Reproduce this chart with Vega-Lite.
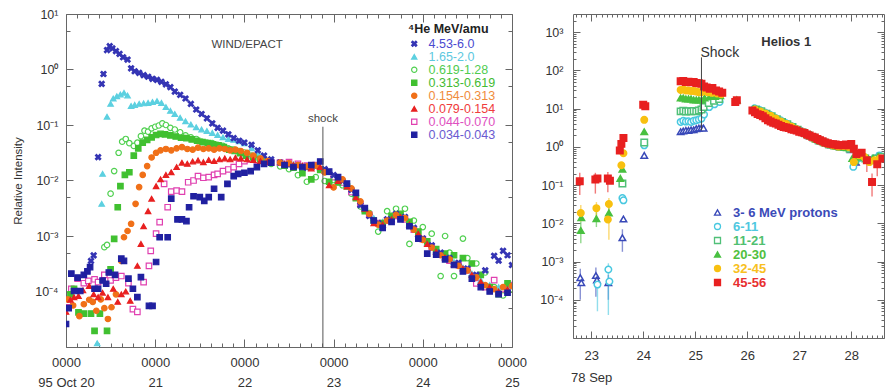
{
  "$schema": "https://vega.github.io/schema/vega-lite/v6.json",
  "background": "white",
  "padding": {"left": 12, "top": 8, "right": 2, "bottom": 2},
  "bounds": "flush",
  "spacing": 61,
  "config": {
    "view": {"stroke": null},
    "axis": {"grid": false, "labelFont": "Liberation Sans", "titleFont": "Liberation Sans", "domainColor": "#666", "tickColor": "#666", "labelColor": "#333", "domainWidth": 1, "tickWidth": 1},
    "legend": {"labelFont": "Liberation Sans", "titleFont": "Liberation Sans"},
    "text": {"font": "Liberation Sans"}
  },
  "datasets": {
    "wind": [
      {"s":"0.619-1.28","t":20.43,"v":0.00063},{"s":"0.619-1.28","t":20.46,"v":0.00069},{"s":"0.619-1.28","t":20.50,"v":0.0058},{"s":"0.619-1.28","t":20.54,"v":0.0148},{"s":"0.619-1.28","t":20.59,"v":0.0316},{"s":"0.619-1.28","t":20.63,"v":0.050},{"s":"0.619-1.28","t":20.67,"v":0.056},{"s":"0.619-1.28","t":20.71,"v":0.047},{"s":"0.619-1.28","t":20.76,"v":0.042},{"s":"0.619-1.28","t":20.80,"v":0.048},{"s":"0.619-1.28","t":20.84,"v":0.063},{"s":"0.619-1.28","t":20.88,"v":0.079},{"s":"0.619-1.28","t":20.92,"v":0.076},{"s":"0.619-1.28","t":20.96,"v":0.087},{"s":"0.619-1.28","t":21.00,"v":0.093},{"s":"0.619-1.28","t":21.04,"v":0.098},{"s":"0.619-1.28","t":21.08,"v":0.107},{"s":"0.619-1.28","t":21.12,"v":0.100},{"s":"0.619-1.28","t":21.17,"v":0.089},{"s":"0.619-1.28","t":21.22,"v":0.083},{"s":"0.619-1.28","t":21.28,"v":0.074},{"s":"0.619-1.28","t":21.34,"v":0.065},{"s":"0.619-1.28","t":21.40,"v":0.060},{"s":"0.619-1.28","t":21.46,"v":0.056},{"s":"0.619-1.28","t":21.52,"v":0.050},{"s":"0.619-1.28","t":21.58,"v":0.048},{"s":"0.619-1.28","t":21.64,"v":0.047},{"s":"0.619-1.28","t":21.70,"v":0.044},{"s":"0.619-1.28","t":21.76,"v":0.042},{"s":"0.619-1.28","t":21.82,"v":0.038},{"s":"0.619-1.28","t":21.88,"v":0.036},{"s":"0.619-1.28","t":21.94,"v":0.034},{"s":"0.619-1.28","t":22.00,"v":0.032},{"s":"0.619-1.28","t":22.08,"v":0.028},{"s":"0.619-1.28","t":22.15,"v":0.025},{"s":"0.619-1.28","t":22.22,"v":0.0224},{"s":"0.619-1.28","t":22.30,"v":0.020},
      {"s":"0.619-1.28","t":22.4,"v":0.018},{"s":"0.619-1.28","t":22.5,"v":0.016},{"s":"0.619-1.28","t":22.6,"v":0.0125},{"s":"0.619-1.28","t":22.7,"v":0.0095},{"s":"0.619-1.28","t":22.8,"v":0.0115},{"s":"0.619-1.28","t":22.9,"v":0.0098},{"s":"0.619-1.28","t":23.0,"v":0.0102},{"s":"0.619-1.28","t":23.1,"v":0.0082},{"s":"0.619-1.28","t":23.2,"v":0.0058},{"s":"0.619-1.28","t":23.3,"v":0.0034},{"s":"0.619-1.28","t":23.4,"v":0.0026},{"s":"0.619-1.28","t":23.5,"v":0.0012},{"s":"0.619-1.28","t":23.6,"v":0.0028},{"s":"0.619-1.28","t":23.7,"v":0.0031},{"s":"0.619-1.28","t":23.8,"v":0.0031},{"s":"0.619-1.28","t":23.85,"v":0.00072},{"s":"0.619-1.28","t":23.9,"v":0.0019},{"s":"0.619-1.28","t":24.0,"v":0.00145},{"s":"0.619-1.28","t":24.1,"v":0.0011},{"s":"0.619-1.28","t":24.2,"v":0.00019},{"s":"0.619-1.28","t":24.25,"v":0.001},{"s":"0.619-1.28","t":24.3,"v":0.0005},{"s":"0.619-1.28","t":24.35,"v":0.00019},{"s":"0.619-1.28","t":24.45,"v":0.0009},{"s":"0.619-1.28","t":24.5,"v":0.0004},{"s":"0.619-1.28","t":24.6,"v":0.00032},{"s":"0.619-1.28","t":24.7,"v":0.00022},{"s":"0.619-1.28","t":24.8,"v":0.00012},{"s":"0.619-1.28","t":24.9,"v":0.000085},{"s":"0.619-1.28","t":25.0,"v":0.00011},

      {"s":"0.044-0.070","t":20.02,"v":0.000065},{"s":"0.044-0.070","t":20.06,"v":0.000112},{"s":"0.044-0.070","t":20.13,"v":0.00017},{"s":"0.044-0.070","t":20.20,"v":0.000141},{"s":"0.044-0.070","t":20.25,"v":0.000155},{"s":"0.044-0.070","t":20.32,"v":0.000166},{"s":"0.044-0.070","t":20.36,"v":0.000148},{"s":"0.044-0.070","t":20.43,"v":0.0002},{"s":"0.044-0.070","t":20.50,"v":0.000158},{"s":"0.044-0.070","t":20.56,"v":0.000178},{"s":"0.044-0.070","t":20.62,"v":0.00019},{"s":"0.044-0.070","t":20.70,"v":0.000141},{"s":"0.044-0.070","t":20.75,"v":0.000048},{"s":"0.044-0.070","t":20.80,"v":0.000043},{"s":"0.044-0.070","t":20.87,"v":0.000148},{"s":"0.044-0.070","t":20.93,"v":0.00029},{"s":"0.044-0.070","t":20.95,"v":0.00054},{"s":"0.044-0.070","t":21.01,"v":0.0011},{"s":"0.044-0.070","t":21.05,"v":0.00178},{"s":"0.044-0.070","t":21.10,"v":0.0087},{"s":"0.044-0.070","t":21.14,"v":0.0033},{"s":"0.044-0.070","t":21.18,"v":0.0063},{"s":"0.044-0.070","t":21.24,"v":0.0066},{"s":"0.044-0.070","t":21.30,"v":0.0063},{"s":"0.044-0.070","t":21.37,"v":0.0093},{"s":"0.044-0.070","t":21.43,"v":0.010},{"s":"0.044-0.070","t":21.48,"v":0.012},{"s":"0.044-0.070","t":21.54,"v":0.0112},{"s":"0.044-0.070","t":21.60,"v":0.0115},{"s":"0.044-0.070","t":21.66,"v":0.0126},{"s":"0.044-0.070","t":21.70,"v":0.0132},{"s":"0.044-0.070","t":21.76,"v":0.0148},{"s":"0.044-0.070","t":21.82,"v":0.0158},{"s":"0.044-0.070","t":21.88,"v":0.0174},{"s":"0.044-0.070","t":21.94,"v":0.020},{"s":"0.044-0.070","t":22.00,"v":0.0224},{"s":"0.044-0.070","t":22.07,"v":0.024},{"s":"0.044-0.070","t":22.14,"v":0.023},{"s":"0.044-0.070","t":22.22,"v":0.022},{"s":"0.044-0.070","t":22.30,"v":0.021},
      {"s":"0.044-0.070","t":22.4,"v":0.021},{"s":"0.044-0.070","t":22.5,"v":0.0215},{"s":"0.044-0.070","t":22.6,"v":0.020},{"s":"0.044-0.070","t":22.7,"v":0.0185},{"s":"0.044-0.070","t":22.8,"v":0.019},{"s":"0.044-0.070","t":22.9,"v":0.015},{"s":"0.044-0.070","t":23.0,"v":0.0115},{"s":"0.044-0.070","t":23.1,"v":0.0092},{"s":"0.044-0.070","t":23.2,"v":0.0062},{"s":"0.044-0.070","t":23.3,"v":0.0038},{"s":"0.044-0.070","t":23.4,"v":0.0024},{"s":"0.044-0.070","t":23.5,"v":0.0017},{"s":"0.044-0.070","t":23.6,"v":0.0019},{"s":"0.044-0.070","t":23.7,"v":0.0023},{"s":"0.044-0.070","t":23.8,"v":0.002},{"s":"0.044-0.070","t":23.9,"v":0.0013},{"s":"0.044-0.070","t":24.0,"v":0.00088},{"s":"0.044-0.070","t":24.1,"v":0.00063},{"s":"0.044-0.070","t":24.2,"v":0.00046},{"s":"0.044-0.070","t":24.3,"v":0.00036},{"s":"0.044-0.070","t":24.4,"v":0.0003},{"s":"0.044-0.070","t":24.5,"v":0.00024},{"s":"0.044-0.070","t":24.6,"v":0.00014},{"s":"0.044-0.070","t":24.7,"v":0.00012},{"s":"0.044-0.070","t":24.8,"v":0.00016},{"s":"0.044-0.070","t":24.9,"v":0.00011},{"s":"0.044-0.070","t":25.0,"v":0.00013},

      {"s":"1.65-2.0","t":20.35,"v":0.0000117},{"s":"1.65-2.0","t":20.40,"v":0.0038},{"s":"1.65-2.0","t":20.41,"v":0.0132},{"s":"1.65-2.0","t":20.46,"v":0.141},{"s":"1.65-2.0","t":20.50,"v":0.24},{"s":"1.65-2.0","t":20.53,"v":0.30},{"s":"1.65-2.0","t":20.57,"v":0.33},{"s":"1.65-2.0","t":20.61,"v":0.355},{"s":"1.65-2.0","t":20.65,"v":0.38},{"s":"1.65-2.0","t":20.69,"v":0.34},{"s":"1.65-2.0","t":20.73,"v":0.22},{"s":"1.65-2.0","t":20.77,"v":0.23},{"s":"1.65-2.0","t":20.82,"v":0.24},{"s":"1.65-2.0","t":20.87,"v":0.245},{"s":"1.65-2.0","t":20.92,"v":0.25},{"s":"1.65-2.0","t":20.97,"v":0.26},{"s":"1.65-2.0","t":21.02,"v":0.27},{"s":"1.65-2.0","t":21.07,"v":0.25},{"s":"1.65-2.0","t":21.12,"v":0.21},{"s":"1.65-2.0","t":21.17,"v":0.18},{"s":"1.65-2.0","t":21.22,"v":0.158},{"s":"1.65-2.0","t":21.28,"v":0.135},{"s":"1.65-2.0","t":21.34,"v":0.117},{"s":"1.65-2.0","t":21.40,"v":0.102},{"s":"1.65-2.0","t":21.46,"v":0.091},{"s":"1.65-2.0","t":21.52,"v":0.083},{"s":"1.65-2.0","t":21.58,"v":0.078},{"s":"1.65-2.0","t":21.64,"v":0.072},{"s":"1.65-2.0","t":21.70,"v":0.066},{"s":"1.65-2.0","t":21.76,"v":0.060},{"s":"1.65-2.0","t":21.82,"v":0.056},{"s":"1.65-2.0","t":21.88,"v":0.054},{"s":"1.65-2.0","t":21.94,"v":0.051},{"s":"1.65-2.0","t":22.00,"v":0.047},{"s":"1.65-2.0","t":22.08,"v":0.038},{"s":"1.65-2.0","t":22.15,"v":0.032},{"s":"1.65-2.0","t":22.22,"v":0.027},{"s":"1.65-2.0","t":22.30,"v":0.0234},
      {"s":"1.65-2.0","t":22.45,"v":0.020},{"s":"1.65-2.0","t":22.55,"v":0.0195},{"s":"1.65-2.0","t":22.65,"v":0.018},{"s":"1.65-2.0","t":22.75,"v":0.0178},{"s":"1.65-2.0","t":22.85,"v":0.017},{"s":"1.65-2.0","t":22.95,"v":0.014},{"s":"1.65-2.0","t":23.05,"v":0.011},{"s":"1.65-2.0","t":23.15,"v":0.0085},{"s":"1.65-2.0","t":23.25,"v":0.0052},{"s":"1.65-2.0","t":23.35,"v":0.003},{"s":"1.65-2.0","t":23.45,"v":0.0021},{"s":"1.65-2.0","t":23.55,"v":0.0018},{"s":"1.65-2.0","t":23.65,"v":0.0022},{"s":"1.65-2.0","t":23.75,"v":0.0023},{"s":"1.65-2.0","t":23.85,"v":0.0017},{"s":"1.65-2.0","t":23.95,"v":0.0011},{"s":"1.65-2.0","t":24.05,"v":0.00075},{"s":"1.65-2.0","t":24.15,"v":0.00055},{"s":"1.65-2.0","t":24.25,"v":0.00042},{"s":"1.65-2.0","t":24.35,"v":0.00034},{"s":"1.65-2.0","t":24.45,"v":0.00027},{"s":"1.65-2.0","t":24.55,"v":0.00021},{"s":"1.65-2.0","t":24.65,"v":0.00016},{"s":"1.65-2.0","t":24.75,"v":0.00013},{"s":"1.65-2.0","t":24.85,"v":0.00012},{"s":"1.65-2.0","t":24.95,"v":0.00012},

      {"s":"0.313-0.619","t":20.05,"v":0.000089},{"s":"0.313-0.619","t":20.09,"v":0.000112},{"s":"0.313-0.619","t":20.14,"v":0.000042},{"s":"0.313-0.619","t":20.20,"v":0.00004},{"s":"0.313-0.619","t":20.28,"v":0.00004},{"s":"0.313-0.619","t":20.32,"v":0.0000195},{"s":"0.313-0.619","t":20.38,"v":0.00004},{"s":"0.313-0.619","t":20.46,"v":0.0000195},{"s":"0.313-0.619","t":20.50,"v":0.00025},{"s":"0.313-0.619","t":20.54,"v":0.00089},{"s":"0.313-0.619","t":20.58,"v":0.0033},{"s":"0.313-0.619","t":20.61,"v":0.0079},{"s":"0.313-0.619","t":20.66,"v":0.0126},{"s":"0.313-0.619","t":20.71,"v":0.0141},{"s":"0.313-0.619","t":20.76,"v":0.028},{"s":"0.313-0.619","t":20.81,"v":0.038},{"s":"0.313-0.619","t":20.86,"v":0.048},{"s":"0.313-0.619","t":20.91,"v":0.054},{"s":"0.313-0.619","t":20.96,"v":0.060},{"s":"0.313-0.619","t":21.01,"v":0.066},{"s":"0.313-0.619","t":21.06,"v":0.069},{"s":"0.313-0.619","t":21.11,"v":0.068},{"s":"0.313-0.619","t":21.17,"v":0.065},{"s":"0.313-0.619","t":21.23,"v":0.062},{"s":"0.313-0.619","t":21.29,"v":0.059},{"s":"0.313-0.619","t":21.35,"v":0.058},{"s":"0.313-0.619","t":21.41,"v":0.055},{"s":"0.313-0.619","t":21.47,"v":0.052},{"s":"0.313-0.619","t":21.53,"v":0.049},{"s":"0.313-0.619","t":21.59,"v":0.047},{"s":"0.313-0.619","t":21.65,"v":0.045},{"s":"0.313-0.619","t":21.71,"v":0.043},{"s":"0.313-0.619","t":21.77,"v":0.040},{"s":"0.313-0.619","t":21.83,"v":0.036},{"s":"0.313-0.619","t":21.89,"v":0.034},{"s":"0.313-0.619","t":21.95,"v":0.031},{"s":"0.313-0.619","t":22.02,"v":0.028},{"s":"0.313-0.619","t":22.10,"v":0.026},{"s":"0.313-0.619","t":22.18,"v":0.024},{"s":"0.313-0.619","t":22.26,"v":0.022},
      {"s":"0.313-0.619","t":22.45,"v":0.0185},{"s":"0.313-0.619","t":22.55,"v":0.017},{"s":"0.313-0.619","t":22.65,"v":0.0135},{"s":"0.313-0.619","t":22.75,"v":0.0105},{"s":"0.313-0.619","t":22.85,"v":0.0155},{"s":"0.313-0.619","t":22.95,"v":0.0095},{"s":"0.313-0.619","t":23.05,"v":0.0092},{"s":"0.313-0.619","t":23.15,"v":0.0078},{"s":"0.313-0.619","t":23.25,"v":0.0048},{"s":"0.313-0.619","t":23.35,"v":0.0028},{"s":"0.313-0.619","t":23.45,"v":0.0019},{"s":"0.313-0.619","t":23.55,"v":0.0017},{"s":"0.313-0.619","t":23.65,"v":0.0023},{"s":"0.313-0.619","t":23.75,"v":0.0025},{"s":"0.313-0.619","t":23.85,"v":0.0018},{"s":"0.313-0.619","t":23.95,"v":0.0012},{"s":"0.313-0.619","t":24.05,"v":0.0008},{"s":"0.313-0.619","t":24.15,"v":0.00058},{"s":"0.313-0.619","t":24.25,"v":0.00048},{"s":"0.313-0.619","t":24.35,"v":0.00045},{"s":"0.313-0.619","t":24.45,"v":0.0004},{"s":"0.313-0.619","t":24.55,"v":0.00032},{"s":"0.313-0.619","t":24.65,"v":0.0002},{"s":"0.313-0.619","t":24.75,"v":0.00012},{"s":"0.313-0.619","t":24.85,"v":0.00009},{"s":"0.313-0.619","t":24.95,"v":0.00014},

      {"s":"4.53-6.0","t":20.28,"v":0.000355},{"s":"4.53-6.0","t":20.31,"v":0.000447},{"s":"4.53-6.0","t":20.36,"v":0.0263},{"s":"4.53-6.0","t":20.40,"v":0.55},{"s":"4.53-6.0","t":20.42,"v":0.83},{"s":"4.53-6.0","t":20.46,"v":2.24},{"s":"4.53-6.0","t":20.49,"v":2.63},{"s":"4.53-6.0","t":20.52,"v":2.4},{"s":"4.53-6.0","t":20.56,"v":2.14},{"s":"4.53-6.0","t":20.60,"v":1.91},{"s":"4.53-6.0","t":20.64,"v":1.66},{"s":"4.53-6.0","t":20.69,"v":1.51},{"s":"4.53-6.0","t":20.73,"v":1.05},{"s":"4.53-6.0","t":20.77,"v":0.93},{"s":"4.53-6.0","t":20.82,"v":0.87},{"s":"4.53-6.0","t":20.87,"v":0.79},{"s":"4.53-6.0","t":20.92,"v":0.74},{"s":"4.53-6.0","t":20.97,"v":0.68},{"s":"4.53-6.0","t":21.02,"v":0.65},{"s":"4.53-6.0","t":21.07,"v":0.60},{"s":"4.53-6.0","t":21.12,"v":0.54},{"s":"4.53-6.0","t":21.17,"v":0.48},{"s":"4.53-6.0","t":21.22,"v":0.40},{"s":"4.53-6.0","t":21.28,"v":0.35},{"s":"4.53-6.0","t":21.34,"v":0.30},{"s":"4.53-6.0","t":21.40,"v":0.24},{"s":"4.53-6.0","t":21.46,"v":0.19},{"s":"4.53-6.0","t":21.52,"v":0.158},{"s":"4.53-6.0","t":21.58,"v":0.132},{"s":"4.53-6.0","t":21.64,"v":0.107},{"s":"4.53-6.0","t":21.70,"v":0.089},{"s":"4.53-6.0","t":21.76,"v":0.079},{"s":"4.53-6.0","t":21.82,"v":0.068},{"s":"4.53-6.0","t":21.88,"v":0.058},{"s":"4.53-6.0","t":21.94,"v":0.052},{"s":"4.53-6.0","t":22.00,"v":0.048},{"s":"4.53-6.0","t":22.08,"v":0.044},{"s":"4.53-6.0","t":22.15,"v":0.035},{"s":"4.53-6.0","t":22.22,"v":0.028},{"s":"4.53-6.0","t":22.30,"v":0.024},
      {"s":"4.53-6.0","t":22.4,"v":0.021},{"s":"4.53-6.0","t":22.5,"v":0.019},{"s":"4.53-6.0","t":22.6,"v":0.0185},{"s":"4.53-6.0","t":22.7,"v":0.017},{"s":"4.53-6.0","t":22.8,"v":0.018},{"s":"4.53-6.0","t":22.9,"v":0.016},{"s":"4.53-6.0","t":23.0,"v":0.0125},{"s":"4.53-6.0","t":23.1,"v":0.0098},{"s":"4.53-6.0","t":23.2,"v":0.0068},{"s":"4.53-6.0","t":23.3,"v":0.0036},{"s":"4.53-6.0","t":23.4,"v":0.0023},{"s":"4.53-6.0","t":23.5,"v":0.0017},{"s":"4.53-6.0","t":23.6,"v":0.002},{"s":"4.53-6.0","t":23.7,"v":0.0025},{"s":"4.53-6.0","t":23.8,"v":0.0022},{"s":"4.53-6.0","t":23.9,"v":0.0014},{"s":"4.53-6.0","t":24.0,"v":0.0009},{"s":"4.53-6.0","t":24.1,"v":0.00068},{"s":"4.53-6.0","t":24.2,"v":0.0005},{"s":"4.53-6.0","t":24.3,"v":0.0004},{"s":"4.53-6.0","t":24.4,"v":0.00033},{"s":"4.53-6.0","t":24.5,"v":0.00026},{"s":"4.53-6.0","t":24.6,"v":0.0002},{"s":"4.53-6.0","t":24.7,"v":0.00024},{"s":"4.53-6.0","t":24.8,"v":0.00044},{"s":"4.53-6.0","t":24.85,"v":0.00036},{"s":"4.53-6.0","t":24.9,"v":0.00054},{"s":"4.53-6.0","t":24.95,"v":0.00045},{"s":"4.53-6.0","t":25.0,"v":0.0003},

      {"s":"0.154-0.313","t":20.02,"v":0.000072},{"s":"0.154-0.313","t":20.08,"v":0.000056},{"s":"0.154-0.313","t":20.15,"v":0.000036},{"s":"0.154-0.313","t":20.20,"v":0.000059},{"s":"0.154-0.313","t":20.26,"v":0.000071},{"s":"0.154-0.313","t":20.30,"v":0.000065},{"s":"0.154-0.313","t":20.34,"v":0.000045},{"s":"0.154-0.313","t":20.39,"v":0.000072},{"s":"0.154-0.313","t":20.43,"v":0.00005},{"s":"0.154-0.313","t":20.47,"v":0.000032},{"s":"0.154-0.313","t":20.51,"v":0.000052},{"s":"0.154-0.313","t":20.56,"v":0.000089},{"s":"0.154-0.313","t":20.62,"v":0.000355},{"s":"0.154-0.313","t":20.65,"v":0.00095},{"s":"0.154-0.313","t":20.69,"v":0.00123},{"s":"0.154-0.313","t":20.73,"v":0.00166},{"s":"0.154-0.313","t":20.78,"v":0.0038},{"s":"0.154-0.313","t":20.82,"v":0.0076},{"s":"0.154-0.313","t":20.86,"v":0.0126},{"s":"0.154-0.313","t":20.91,"v":0.0182},{"s":"0.154-0.313","t":20.96,"v":0.026},{"s":"0.154-0.313","t":21.01,"v":0.0316},{"s":"0.154-0.313","t":21.06,"v":0.035},{"s":"0.154-0.313","t":21.12,"v":0.037},{"s":"0.154-0.313","t":21.18,"v":0.035},{"s":"0.154-0.313","t":21.24,"v":0.038},{"s":"0.154-0.313","t":21.30,"v":0.040},{"s":"0.154-0.313","t":21.36,"v":0.037},{"s":"0.154-0.313","t":21.42,"v":0.036},{"s":"0.154-0.313","t":21.48,"v":0.039},{"s":"0.154-0.313","t":21.54,"v":0.037},{"s":"0.154-0.313","t":21.60,"v":0.038},{"s":"0.154-0.313","t":21.66,"v":0.036},{"s":"0.154-0.313","t":21.72,"v":0.038},{"s":"0.154-0.313","t":21.78,"v":0.037},{"s":"0.154-0.313","t":21.84,"v":0.035},{"s":"0.154-0.313","t":21.90,"v":0.036},{"s":"0.154-0.313","t":21.96,"v":0.034},{"s":"0.154-0.313","t":22.03,"v":0.0316},{"s":"0.154-0.313","t":22.10,"v":0.028},{"s":"0.154-0.313","t":22.18,"v":0.025},{"s":"0.154-0.313","t":22.26,"v":0.0224},
      {"s":"0.154-0.313","t":22.4,"v":0.021},{"s":"0.154-0.313","t":22.5,"v":0.0205},{"s":"0.154-0.313","t":22.6,"v":0.019},{"s":"0.154-0.313","t":22.7,"v":0.018},{"s":"0.154-0.313","t":22.8,"v":0.0185},{"s":"0.154-0.313","t":22.9,"v":0.014},{"s":"0.154-0.313","t":23.0,"v":0.0075},{"s":"0.154-0.313","t":23.1,"v":0.0105},{"s":"0.154-0.313","t":23.2,"v":0.0072},{"s":"0.154-0.313","t":23.3,"v":0.0042},{"s":"0.154-0.313","t":23.4,"v":0.0025},{"s":"0.154-0.313","t":23.5,"v":0.0016},{"s":"0.154-0.313","t":23.6,"v":0.0019},{"s":"0.154-0.313","t":23.7,"v":0.0024},{"s":"0.154-0.313","t":23.8,"v":0.0021},{"s":"0.154-0.313","t":23.9,"v":0.0013},{"s":"0.154-0.313","t":24.0,"v":0.00085},{"s":"0.154-0.313","t":24.1,"v":0.00062},{"s":"0.154-0.313","t":24.2,"v":0.00045},{"s":"0.154-0.313","t":24.3,"v":0.00038},{"s":"0.154-0.313","t":24.4,"v":0.00029},{"s":"0.154-0.313","t":24.5,"v":0.00024},{"s":"0.154-0.313","t":24.6,"v":0.00018},{"s":"0.154-0.313","t":24.7,"v":0.00013},{"s":"0.154-0.313","t":24.8,"v":0.00011},{"s":"0.154-0.313","t":24.9,"v":0.00012},{"s":"0.154-0.313","t":25.0,"v":0.000125},

      {"s":"0.079-0.154","t":20.00,"v":0.000043},{"s":"0.079-0.154","t":20.05,"v":0.000071},{"s":"0.079-0.154","t":20.09,"v":0.000079},{"s":"0.079-0.154","t":20.14,"v":0.000083},{"s":"0.079-0.154","t":20.19,"v":0.000105},{"s":"0.079-0.154","t":20.26,"v":0.000126},{"s":"0.079-0.154","t":20.31,"v":0.000089},{"s":"0.079-0.154","t":20.36,"v":0.000079},{"s":"0.079-0.154","t":20.41,"v":0.000095},{"s":"0.079-0.154","t":20.47,"v":0.000079},{"s":"0.079-0.154","t":20.53,"v":0.000112},{"s":"0.079-0.154","t":20.58,"v":0.000065},{"s":"0.079-0.154","t":20.62,"v":0.000089},{"s":"0.079-0.154","t":20.67,"v":0.0001},{"s":"0.079-0.154","t":20.72,"v":0.000068},{"s":"0.079-0.154","t":20.80,"v":0.00029},{"s":"0.079-0.154","t":20.84,"v":0.00072},{"s":"0.079-0.154","t":20.87,"v":0.0015},{"s":"0.079-0.154","t":20.92,"v":0.0028},{"s":"0.079-0.154","t":20.96,"v":0.0047},{"s":"0.079-0.154","t":21.01,"v":0.0079},{"s":"0.079-0.154","t":21.06,"v":0.0105},{"s":"0.079-0.154","t":21.12,"v":0.0126},{"s":"0.079-0.154","t":21.18,"v":0.0141},{"s":"0.079-0.154","t":21.24,"v":0.0174},{"s":"0.079-0.154","t":21.30,"v":0.0209},{"s":"0.079-0.154","t":21.36,"v":0.020},{"s":"0.079-0.154","t":21.42,"v":0.022},{"s":"0.079-0.154","t":21.48,"v":0.023},{"s":"0.079-0.154","t":21.54,"v":0.0214},{"s":"0.079-0.154","t":21.60,"v":0.0234},{"s":"0.079-0.154","t":21.66,"v":0.0224},{"s":"0.079-0.154","t":21.72,"v":0.024},{"s":"0.079-0.154","t":21.78,"v":0.025},{"s":"0.079-0.154","t":21.84,"v":0.024},{"s":"0.079-0.154","t":21.90,"v":0.0257},{"s":"0.079-0.154","t":21.96,"v":0.025},{"s":"0.079-0.154","t":22.03,"v":0.024},{"s":"0.079-0.154","t":22.10,"v":0.0234},{"s":"0.079-0.154","t":22.18,"v":0.0224},{"s":"0.079-0.154","t":22.26,"v":0.0214},
      {"s":"0.079-0.154","t":22.45,"v":0.020},{"s":"0.079-0.154","t":22.55,"v":0.019},{"s":"0.079-0.154","t":22.65,"v":0.0185},{"s":"0.079-0.154","t":22.75,"v":0.0165},{"s":"0.079-0.154","t":22.85,"v":0.0175},{"s":"0.079-0.154","t":22.95,"v":0.0082},{"s":"0.079-0.154","t":23.05,"v":0.0098},{"s":"0.079-0.154","t":23.15,"v":0.0078},{"s":"0.079-0.154","t":23.25,"v":0.005},{"s":"0.079-0.154","t":23.35,"v":0.0031},{"s":"0.079-0.154","t":23.45,"v":0.0017},{"s":"0.079-0.154","t":23.55,"v":0.0016},{"s":"0.079-0.154","t":23.65,"v":0.002},{"s":"0.079-0.154","t":23.75,"v":0.0022},{"s":"0.079-0.154","t":23.85,"v":0.0016},{"s":"0.079-0.154","t":23.95,"v":0.0011},{"s":"0.079-0.154","t":24.05,"v":0.00072},{"s":"0.079-0.154","t":24.15,"v":0.00052},{"s":"0.079-0.154","t":24.25,"v":0.00041},{"s":"0.079-0.154","t":24.35,"v":0.00031},{"s":"0.079-0.154","t":24.45,"v":0.00026},{"s":"0.079-0.154","t":24.55,"v":0.0002},{"s":"0.079-0.154","t":24.65,"v":0.00015},{"s":"0.079-0.154","t":24.75,"v":0.00012},{"s":"0.079-0.154","t":24.85,"v":0.0001},{"s":"0.079-0.154","t":24.95,"v":0.00011},

      {"s":"0.034-0.043","t":20.00,"v":0.000026},{"s":"0.034-0.043","t":20.03,"v":0.00005},{"s":"0.034-0.043","t":20.06,"v":0.00021},{"s":"0.034-0.043","t":20.09,"v":0.000102},{"s":"0.034-0.043","t":20.13,"v":0.000178},{"s":"0.034-0.043","t":20.16,"v":0.000102},{"s":"0.034-0.043","t":20.20,"v":0.0002},{"s":"0.034-0.043","t":20.24,"v":0.00023},{"s":"0.034-0.043","t":20.27,"v":0.000275},{"s":"0.034-0.043","t":20.32,"v":0.000112},{"s":"0.034-0.043","t":20.36,"v":0.000112},{"s":"0.034-0.043","t":20.41,"v":0.000158},{"s":"0.034-0.043","t":20.45,"v":0.000138},{"s":"0.034-0.043","t":20.48,"v":0.00022},{"s":"0.034-0.043","t":20.55,"v":0.0002},{"s":"0.034-0.043","t":20.62,"v":0.00039},{"s":"0.034-0.043","t":20.65,"v":0.000355},{"s":"0.034-0.043","t":20.70,"v":0.00017},{"s":"0.034-0.043","t":20.75,"v":0.000112},{"s":"0.034-0.043","t":20.80,"v":0.000079},{"s":"0.034-0.043","t":20.84,"v":0.000182},{"s":"0.034-0.043","t":20.93,"v":0.000055},{"s":"0.034-0.043","t":20.97,"v":0.000055},{"s":"0.034-0.043","t":21.01,"v":0.00034},{"s":"0.034-0.043","t":21.05,"v":0.00095},{"s":"0.034-0.043","t":21.14,"v":0.00095},{"s":"0.034-0.043","t":21.18,"v":0.0047},{"s":"0.034-0.043","t":21.25,"v":0.002},{"s":"0.034-0.043","t":21.30,"v":0.002},{"s":"0.034-0.043","t":21.35,"v":0.00186},{"s":"0.034-0.043","t":21.38,"v":0.0033},{"s":"0.034-0.043","t":21.43,"v":0.0052},{"s":"0.034-0.043","t":21.50,"v":0.005},{"s":"0.034-0.043","t":21.55,"v":0.0043},{"s":"0.034-0.043","t":21.60,"v":0.005},{"s":"0.034-0.043","t":21.66,"v":0.0071},{"s":"0.034-0.043","t":21.74,"v":0.005},{"s":"0.034-0.043","t":21.81,"v":0.0087},{"s":"0.034-0.043","t":21.88,"v":0.012},{"s":"0.034-0.043","t":21.93,"v":0.0132},{"s":"0.034-0.043","t":22.00,"v":0.0138},{"s":"0.034-0.043","t":22.07,"v":0.0148},{"s":"0.034-0.043","t":22.14,"v":0.0174},{"s":"0.034-0.043","t":22.22,"v":0.020},{"s":"0.034-0.043","t":22.30,"v":0.021},
      {"s":"0.034-0.043","t":22.45,"v":0.019},{"s":"0.034-0.043","t":22.55,"v":0.0175},{"s":"0.034-0.043","t":22.65,"v":0.0175},{"s":"0.034-0.043","t":22.75,"v":0.019},{"s":"0.034-0.043","t":22.85,"v":0.022},{"s":"0.034-0.043","t":22.95,"v":0.0145},{"s":"0.034-0.043","t":23.05,"v":0.0115},{"s":"0.034-0.043","t":23.15,"v":0.0088},{"s":"0.034-0.043","t":23.25,"v":0.006},{"s":"0.034-0.043","t":23.35,"v":0.0032},{"s":"0.034-0.043","t":23.45,"v":0.0019},{"s":"0.034-0.043","t":23.55,"v":0.0014},{"s":"0.034-0.043","t":23.65,"v":0.0018},{"s":"0.034-0.043","t":23.75,"v":0.002},{"s":"0.034-0.043","t":23.85,"v":0.0015},{"s":"0.034-0.043","t":23.95,"v":0.0009},{"s":"0.034-0.043","t":24.05,"v":0.00048},{"s":"0.034-0.043","t":24.15,"v":0.00046},{"s":"0.034-0.043","t":24.25,"v":0.00038},{"s":"0.034-0.043","t":24.35,"v":0.0003},{"s":"0.034-0.043","t":24.45,"v":0.00023},{"s":"0.034-0.043","t":24.55,"v":0.00017},{"s":"0.034-0.043","t":24.65,"v":0.00012},{"s":"0.034-0.043","t":24.75,"v":0.0001},{"s":"0.034-0.043","t":24.85,"v":0.00009},{"s":"0.034-0.043","t":24.95,"v":0.000095}
    ],
    "helios": [
      {"s":"3- 6 MeV protons","t":22.79,"v":0.00038,"lo":0.0001,"hi":0.00065},{"s":"3- 6 MeV protons","t":22.81,"v":0.00028},{"s":"3- 6 MeV protons","t":23.09,"v":0.00043,"lo":0.00012,"hi":0.0007},{"s":"3- 6 MeV protons","t":23.11,"v":0.00033},{"s":"3- 6 MeV protons","t":23.33,"v":0.00028,"lo":0.0001,"hi":0.00045},{"s":"3- 6 MeV protons","t":23.60,"v":0.0042,"lo":0.0018,"hi":0.007},{"s":"3- 6 MeV protons","t":23.62,"v":0.013},{"s":"3- 6 MeV protons","t":24.02,"v":0.6},{"s":"3- 6 MeV protons","t":24.72,"v":2.5},{"s":"3- 6 MeV protons","t":24.77,"v":2.6},{"s":"3- 6 MeV protons","t":24.82,"v":2.7},{"s":"3- 6 MeV protons","t":24.87,"v":2.7},{"s":"3- 6 MeV protons","t":24.92,"v":2.8},{"s":"3- 6 MeV protons","t":24.97,"v":2.8},{"s":"3- 6 MeV protons","t":25.02,"v":3.0},{"s":"3- 6 MeV protons","t":25.07,"v":3.1},{"s":"3- 6 MeV protons","t":25.12,"v":3.2},{"s":"3- 6 MeV protons","t":25.16,"v":3.1},{"s":"3- 6 MeV protons","t":26.19,"v":9.0},{"s":"3- 6 MeV protons","t":26.39,"v":7.0},{"s":"3- 6 MeV protons","t":26.59,"v":5.0},{"s":"3- 6 MeV protons","t":26.79,"v":3.6},{"s":"3- 6 MeV protons","t":26.99,"v":2.7},{"s":"3- 6 MeV protons","t":27.19,"v":1.95},{"s":"3- 6 MeV protons","t":27.39,"v":1.45},{"s":"3- 6 MeV protons","t":27.59,"v":1.15},{"s":"3- 6 MeV protons","t":27.79,"v":1.0},{"s":"3- 6 MeV protons","t":27.99,"v":0.85},{"s":"3- 6 MeV protons","t":28.09,"v":0.4},{"s":"3- 6 MeV protons","t":28.29,"v":0.5},{"s":"3- 6 MeV protons","t":28.49,"v":0.55},

      {"s":"6-11","t":23.12,"v":0.00025,"lo":0.00005,"hi":0.0004},{"s":"6-11","t":23.33,"v":0.00062,"lo":0.00004,"hi":0.0009},{"s":"6-11","t":23.35,"v":0.0003},{"s":"6-11","t":23.60,"v":0.046},{"s":"6-11","t":23.62,"v":0.04},{"s":"6-11","t":24.02,"v":1.1},{"s":"6-11","t":24.72,"v":4.5},{"s":"6-11","t":24.77,"v":4.8},{"s":"6-11","t":24.82,"v":4.6},{"s":"6-11","t":24.87,"v":4.7},{"s":"6-11","t":24.92,"v":4.5},{"s":"6-11","t":24.97,"v":4.8},{"s":"6-11","t":25.02,"v":5.0},{"s":"6-11","t":25.07,"v":5.2},{"s":"6-11","t":25.12,"v":5.5},{"s":"6-11","t":25.17,"v":7},{"s":"6-11","t":25.27,"v":11},{"s":"6-11","t":25.37,"v":13},{"s":"6-11","t":25.47,"v":15},{"s":"6-11","t":26.14,"v":10.2},{"s":"6-11","t":26.24,"v":9.2},{"s":"6-11","t":26.34,"v":8.0},{"s":"6-11","t":26.44,"v":6.9},{"s":"6-11","t":26.54,"v":5.8},{"s":"6-11","t":26.64,"v":5.0},{"s":"6-11","t":26.74,"v":4.2},{"s":"6-11","t":26.84,"v":3.6},{"s":"6-11","t":26.94,"v":3.0},{"s":"6-11","t":27.04,"v":2.6},{"s":"6-11","t":27.14,"v":2.2},{"s":"6-11","t":27.24,"v":1.85},{"s":"6-11","t":27.34,"v":1.6},{"s":"6-11","t":27.44,"v":1.38},{"s":"6-11","t":27.54,"v":1.22},{"s":"6-11","t":27.64,"v":1.1},{"s":"6-11","t":27.74,"v":1.03},{"s":"6-11","t":27.84,"v":1.0},{"s":"6-11","t":27.94,"v":0.92},{"s":"6-11","t":28.04,"v":0.3},{"s":"6-11","t":28.14,"v":0.5},{"s":"6-11","t":28.24,"v":0.55},{"s":"6-11","t":28.34,"v":0.45},{"s":"6-11","t":28.44,"v":0.5},{"s":"6-11","t":28.54,"v":0.6},

      {"s":"11-21","t":23.60,"v":0.11},{"s":"11-21","t":24.02,"v":1.3},{"s":"11-21","t":24.72,"v":8.5},{"s":"11-21","t":24.77,"v":8.8},{"s":"11-21","t":24.82,"v":8.4},{"s":"11-21","t":24.87,"v":8.6},{"s":"11-21","t":24.92,"v":8.5},{"s":"11-21","t":24.97,"v":8.7},{"s":"11-21","t":25.02,"v":8.5},{"s":"11-21","t":25.07,"v":9},{"s":"11-21","t":25.12,"v":9.5},{"s":"11-21","t":25.16,"v":11},{"s":"11-21","t":25.26,"v":14},{"s":"11-21","t":25.36,"v":16},{"s":"11-21","t":25.46,"v":18},{"s":"11-21","t":26.17,"v":9.5},{"s":"11-21","t":26.27,"v":8.6},{"s":"11-21","t":26.37,"v":7.4},{"s":"11-21","t":26.47,"v":6.3},{"s":"11-21","t":26.57,"v":5.3},{"s":"11-21","t":26.67,"v":4.5},{"s":"11-21","t":26.77,"v":3.9},{"s":"11-21","t":26.87,"v":3.3},{"s":"11-21","t":26.97,"v":2.8},{"s":"11-21","t":27.07,"v":2.4},{"s":"11-21","t":27.17,"v":2.05},{"s":"11-21","t":27.27,"v":1.75},{"s":"11-21","t":27.37,"v":1.5},{"s":"11-21","t":27.47,"v":1.32},{"s":"11-21","t":27.57,"v":1.18},{"s":"11-21","t":27.67,"v":1.08},{"s":"11-21","t":27.77,"v":1.02},{"s":"11-21","t":27.87,"v":1.0},{"s":"11-21","t":27.97,"v":0.9},{"s":"11-21","t":28.07,"v":0.45},{"s":"11-21","t":28.17,"v":0.55},{"s":"11-21","t":28.27,"v":0.5},{"s":"11-21","t":28.37,"v":0.45},{"s":"11-21","t":28.47,"v":0.5},{"s":"11-21","t":28.57,"v":0.55},

      {"s":"20-30","t":22.80,"v":0.0065,"lo":0.003,"hi":0.011},{"s":"20-30","t":22.81,"v":0.014},{"s":"20-30","t":23.10,"v":0.0132,"lo":0.008,"hi":0.02},{"s":"20-30","t":23.34,"v":0.0186,"lo":0.01,"hi":0.026},{"s":"20-30","t":23.56,"v":0.15},{"s":"20-30","t":23.60,"v":0.26},{"s":"20-30","t":24.02,"v":2.5},{"s":"20-30","t":24.72,"v":19},{"s":"20-30","t":24.77,"v":19},{"s":"20-30","t":24.82,"v":18},{"s":"20-30","t":24.87,"v":18},{"s":"20-30","t":24.92,"v":18},{"s":"20-30","t":24.97,"v":17},{"s":"20-30","t":25.02,"v":17},{"s":"20-30","t":25.07,"v":17},{"s":"20-30","t":25.12,"v":17},{"s":"20-30","t":25.18,"v":19},{"s":"20-30","t":25.28,"v":21},{"s":"20-30","t":25.38,"v":21},{"s":"20-30","t":25.48,"v":22},{"s":"20-30","t":25.80,"v":17},{"s":"20-30","t":26.12,"v":9.8},{"s":"20-30","t":26.22,"v":9},{"s":"20-30","t":26.32,"v":7.8},{"s":"20-30","t":26.42,"v":6.8},{"s":"20-30","t":26.52,"v":5.8},{"s":"20-30","t":26.62,"v":4.9},{"s":"20-30","t":26.72,"v":4.2},{"s":"20-30","t":26.82,"v":3.5},{"s":"20-30","t":26.92,"v":3.0},{"s":"20-30","t":27.02,"v":2.6},{"s":"20-30","t":27.12,"v":2.2},{"s":"20-30","t":27.22,"v":1.9},{"s":"20-30","t":27.32,"v":1.6},{"s":"20-30","t":27.42,"v":1.4},{"s":"20-30","t":27.52,"v":1.25},{"s":"20-30","t":27.62,"v":1.12},{"s":"20-30","t":27.72,"v":1.05},{"s":"20-30","t":27.82,"v":1.0},{"s":"20-30","t":27.92,"v":0.95},{"s":"20-30","t":28.02,"v":0.5},{"s":"20-30","t":28.12,"v":0.55},{"s":"20-30","t":28.22,"v":0.6},{"s":"20-30","t":28.32,"v":0.5},{"s":"20-30","t":28.42,"v":0.5},{"s":"20-30","t":28.52,"v":0.55},

      {"s":"32-45","t":22.80,"v":0.0186,"lo":0.011,"hi":0.03},{"s":"32-45","t":23.10,"v":0.025,"lo":0.013,"hi":0.036},{"s":"32-45","t":23.32,"v":0.0126},{"s":"32-45","t":23.34,"v":0.032,"lo":0.0037,"hi":0.046},{"s":"32-45","t":23.58,"v":0.33},{"s":"32-45","t":23.62,"v":0.68},{"s":"32-45","t":24.02,"v":5.1},{"s":"32-45","t":24.72,"v":31},{"s":"32-45","t":24.77,"v":32},{"s":"32-45","t":24.82,"v":30},{"s":"32-45","t":24.87,"v":30},{"s":"32-45","t":24.92,"v":29},{"s":"32-45","t":24.97,"v":29},{"s":"32-45","t":25.02,"v":28},{"s":"32-45","t":25.07,"v":27},{"s":"32-45","t":25.12,"v":27},{"s":"32-45","t":25.17,"v":29},{"s":"32-45","t":25.24,"v":27},{"s":"32-45","t":25.32,"v":26},{"s":"32-45","t":25.42,"v":25},{"s":"32-45","t":25.50,"v":24},{"s":"32-45","t":25.78,"v":16},{"s":"32-45","t":26.15,"v":9.5},{"s":"32-45","t":26.25,"v":8.5},{"s":"32-45","t":26.35,"v":7.5},{"s":"32-45","t":26.45,"v":6.5},{"s":"32-45","t":26.55,"v":5.5},{"s":"32-45","t":26.65,"v":4.6},{"s":"32-45","t":26.75,"v":4.0},{"s":"32-45","t":26.85,"v":3.4},{"s":"32-45","t":26.95,"v":2.9},{"s":"32-45","t":27.05,"v":2.5},{"s":"32-45","t":27.15,"v":2.1},{"s":"32-45","t":27.25,"v":1.8},{"s":"32-45","t":27.35,"v":1.55},{"s":"32-45","t":27.45,"v":1.35},{"s":"32-45","t":27.55,"v":1.2},{"s":"32-45","t":27.65,"v":1.1},{"s":"32-45","t":27.75,"v":1.02},{"s":"32-45","t":27.85,"v":1.05},{"s":"32-45","t":27.95,"v":1.0},{"s":"32-45","t":28.05,"v":0.4},{"s":"32-45","t":28.15,"v":0.6},{"s":"32-45","t":28.25,"v":0.55},{"s":"32-45","t":28.35,"v":0.4},{"s":"32-45","t":28.45,"v":0.45},{"s":"32-45","t":28.55,"v":0.5},

      {"s":"45-56","t":22.78,"v":0.126,"lo":0.055,"hi":0.21},{"s":"45-56","t":23.08,"v":0.14,"lo":0.06,"hi":0.21},{"s":"45-56","t":23.12,"v":0.15},{"s":"45-56","t":23.32,"v":0.15,"lo":0.065,"hi":0.22},{"s":"45-56","t":23.36,"v":0.13},{"s":"45-56","t":23.55,"v":0.8},{"s":"45-56","t":23.58,"v":1.2},{"s":"45-56","t":23.62,"v":1.7},{"s":"45-56","t":24.00,"v":12.6},{"s":"45-56","t":24.04,"v":11.5},{"s":"45-56","t":24.72,"v":52},{"s":"45-56","t":24.77,"v":53},{"s":"45-56","t":24.82,"v":50},{"s":"45-56","t":24.87,"v":51},{"s":"45-56","t":24.92,"v":49},{"s":"45-56","t":24.97,"v":50},{"s":"45-56","t":25.02,"v":47},{"s":"45-56","t":25.07,"v":46},{"s":"45-56","t":25.12,"v":45},{"s":"45-56","t":25.17,"v":38},{"s":"45-56","t":25.22,"v":36},{"s":"45-56","t":25.28,"v":33},{"s":"45-56","t":25.33,"v":35},{"s":"45-56","t":25.40,"v":30},{"s":"45-56","t":25.46,"v":28},{"s":"45-56","t":25.52,"v":26},{"s":"45-56","t":25.77,"v":15},{"s":"45-56","t":25.80,"v":16.5},{"s":"45-56","t":26.10,"v":9.0},{"s":"45-56","t":26.15,"v":8.0},{"s":"45-56","t":26.20,"v":7.2},{"s":"45-56","t":26.25,"v":6.8},{"s":"45-56","t":26.30,"v":6.3},{"s":"45-56","t":26.35,"v":5.6},{"s":"45-56","t":26.40,"v":5.0},{"s":"45-56","t":26.45,"v":4.6},{"s":"45-56","t":26.50,"v":4.3},{"s":"45-56","t":26.55,"v":4.1},{"s":"45-56","t":26.60,"v":3.8},{"s":"45-56","t":26.65,"v":3.5},{"s":"45-56","t":26.70,"v":3.3},{"s":"45-56","t":26.75,"v":3.2},{"s":"45-56","t":26.80,"v":3.1},{"s":"45-56","t":26.85,"v":2.9},{"s":"45-56","t":26.90,"v":2.8},{"s":"45-56","t":26.95,"v":2.7},{"s":"45-56","t":27.00,"v":2.5},{"s":"45-56","t":27.05,"v":2.4},{"s":"45-56","t":27.10,"v":2.3},{"s":"45-56","t":27.15,"v":2.1},{"s":"45-56","t":27.20,"v":2.0},{"s":"45-56","t":27.25,"v":1.85},{"s":"45-56","t":27.30,"v":1.75},{"s":"45-56","t":27.35,"v":1.6},{"s":"45-56","t":27.40,"v":1.5},{"s":"45-56","t":27.45,"v":1.4},{"s":"45-56","t":27.50,"v":1.3},{"s":"45-56","t":27.55,"v":1.25},{"s":"45-56","t":27.60,"v":1.2},{"s":"45-56","t":27.65,"v":1.18},{"s":"45-56","t":27.70,"v":1.15},{"s":"45-56","t":27.75,"v":1.1},{"s":"45-56","t":27.80,"v":1.12},{"s":"45-56","t":27.85,"v":1.1},{"s":"45-56","t":27.90,"v":1.15},{"s":"45-56","t":27.95,"v":1.1},{"s":"45-56","t":28.00,"v":1.2},{"s":"45-56","t":28.05,"v":0.9},{"s":"45-56","t":28.10,"v":0.65,"lo":0.4,"hi":0.8},{"s":"45-56","t":28.20,"v":0.7},{"s":"45-56","t":28.30,"v":0.45,"lo":0.22,"hi":0.6},{"s":"45-56","t":28.40,"v":0.12,"lo":0.05,"hi":0.2},{"s":"45-56","t":28.50,"v":0.35,"lo":0.17,"hi":0.5},{"s":"45-56","t":28.60,"v":0.5}
    ]
  },
  "hconcat": [
    {
      "width": 446,
      "height": 333,
      "resolve": {"axis": {"x": "independent", "y": "independent"}},
      "layer": [
        {
          "data": {"name": "wind"},
          "mark": {"type": "point", "size": 30, "strokeWidth": 1.2, "opacity": 1, "clip": true},
          "encoding": {
            "x": {"field": "t", "type": "quantitative", "scale": {"domain": [20, 25], "nice": false, "zero": false},
              "axis": {"orient": "bottom", "values": [20,20.125,20.25,20.375,20.5,20.625,20.75,20.875,21,21.125,21.25,21.375,21.5,21.625,21.75,21.875,22,22.125,22.25,22.375,22.5,22.625,22.75,22.875,23,23.125,23.25,23.375,23.5,23.625,23.75,23.875,24,24.125,24.25,24.375,24.5,24.625,24.75,24.875,25],
                "labelExpr": "datum.value % 1 === 0 ? ['0000', datum.value === 20 ? '95 Oct 20' : format(datum.value, 'd')] : ''",
                "tickSize": {"condition": {"test": "datum.value % 1 === 0", "value": -8}, "value": -4},
                "labelFontSize": 13, "labelLineHeight": 20, "labelPadding": 17, "labelFlush": false, "labelOverlap": false, "labelBound": false, "title": null}},
            "y": {"field": "v", "type": "quantitative", "scale": {"type": "log", "domain": [0.00001, 10], "nice": false},
              "axis": {"orient": "left", "values": [0.00001,0.00005,0.0001,0.0005,0.001,0.005,0.01,0.05,0.1,0.5,1,5,10],
                "labelExpr": "abs(log(datum.value)/LN10 - round(log(datum.value)/LN10)) < 0.01 && datum.value > 0.00002 ? '10' + ['⁻⁵','⁻⁴','⁻³','⁻²','⁻¹','⁰','¹','²','³'][round(log(datum.value)/LN10) + 5] : ''",
                "tickSize": {"condition": {"test": "abs(log(datum.value)/LN10 - round(log(datum.value)/LN10)) < 0.01", "value": -7}, "value": -4},
                "labelFontSize": 12.5, "labelPadding": 15, "labelOverlap": false, "labelBound": false,
                "title": "Relative Intensity", "titleFontSize": 11.5, "titleFontWeight": "normal", "titleColor": "#333", "titlePadding": 11}},
            "fill": {"field": "s", "type": "nominal",
              "scale": {"domain": ["4.53-6.0","1.65-2.0","0.619-1.28","0.313-0.619","0.154-0.313","0.079-0.154","0.044-0.070","0.034-0.043"],
                "range": ["#3434b4","#5cd0e0","white","#40c030","#f07018","#e82020","white","#2020a0"]},
              "legend": {"orient": "none", "legendX": 342, "legendY": 9, "title": "⁴He  MeV/amu", "titleFontSize": 12.5, "titleFontWeight": "bold", "titleColor": "#222", "titlePadding": 2,
                "labelFontSize": 12.5, "symbolSize": 28, "symbolStrokeWidth": 1.2, "rowPadding": 0, "labelOffset": 8,
                "labelColor": {"expr": "['#4a4ad0','#5cc8e0','#50cc50','#44bb33','#f08c3c','#f03c3c','#e050c0','#6a5ad0'][indexof(['4.53-6.0','1.65-2.0','0.619-1.28','0.313-0.619','0.154-0.313','0.079-0.154','0.044-0.070','0.034-0.043'], datum.value)]"}}},
            "stroke": {"field": "s", "type": "nominal",
              "scale": {"domain": ["4.53-6.0","1.65-2.0","0.619-1.28","0.313-0.619","0.154-0.313","0.079-0.154","0.044-0.070","0.034-0.043"],
                "range": ["#3434b4","#5cd0e0","#50d050","#40c030","#f07018","#e82020","#e040b0","#2020a0"]},
              "legend": {"orient": "none", "legendX": 342, "legendY": 9, "title": "⁴He  MeV/amu", "titleFontSize": 12.5, "titleFontWeight": "bold", "titleColor": "#222", "titlePadding": 2,
                "labelFontSize": 12.5, "symbolSize": 28, "symbolStrokeWidth": 1.2, "rowPadding": 0, "labelOffset": 8,
                "labelColor": {"expr": "['#4a4ad0','#5cc8e0','#50cc50','#44bb33','#f08c3c','#f03c3c','#e050c0','#6a5ad0'][indexof(['4.53-6.0','1.65-2.0','0.619-1.28','0.313-0.619','0.154-0.313','0.079-0.154','0.044-0.070','0.034-0.043'], datum.value)]"}}},
            "shape": {"field": "s", "type": "nominal",
              "scale": {"domain": ["4.53-6.0","1.65-2.0","0.619-1.28","0.313-0.619","0.154-0.313","0.079-0.154","0.044-0.070","0.034-0.043"],
                "range": ["M-1,-0.6L-0.6,-1L0,-0.4L0.6,-1L1,-0.6L0.4,0L1,0.6L0.6,1L0,0.4L-0.6,1L-1,0.6L-0.4,0Z","triangle-up","circle","square","circle","triangle-up","square","square"]},
              "legend": {"orient": "none", "legendX": 342, "legendY": 9, "title": "⁴He  MeV/amu", "titleFontSize": 12.5, "titleFontWeight": "bold", "titleColor": "#222", "titlePadding": 2,
                "labelFontSize": 12.5, "symbolSize": 28, "symbolStrokeWidth": 1.2, "rowPadding": 0, "labelOffset": 8,
                "labelColor": {"expr": "['#4a4ad0','#5cc8e0','#50cc50','#44bb33','#f08c3c','#f03c3c','#e050c0','#6a5ad0'][indexof(['4.53-6.0','1.65-2.0','0.619-1.28','0.313-0.619','0.154-0.313','0.079-0.154','0.044-0.070','0.034-0.043'], datum.value)]"}}}
          }
        },
        {
          "data": {"values": [{"t": 22.88, "top": 0.093, "bottom": 0.00001}]},
          "mark": {"type": "rule", "color": "#555", "strokeWidth": 1},
          "encoding": {
            "x": {"field": "t", "type": "quantitative", "scale": {"domain": [20, 25], "nice": false, "zero": false},
              "axis": {"orient": "top", "values": [20,20.125,20.25,20.375,20.5,20.625,20.75,20.875,21,21.125,21.25,21.375,21.5,21.625,21.75,21.875,22,22.125,22.25,22.375,22.5,22.625,22.75,22.875,23,23.125,23.25,23.375,23.5,23.625,23.75,23.875,24,24.125,24.25,24.375,24.5,24.625,24.75,24.875,25],
                "labels": false, "title": null,
                "tickSize": {"condition": {"test": "datum.value % 1 === 0", "value": -8}, "value": -4}}},
            "y": {"field": "top", "type": "quantitative", "scale": {"type": "log", "domain": [0.00001, 10], "nice": false},
              "axis": {"orient": "right", "values": [0.00001,0.00005,0.0001,0.0005,0.001,0.005,0.01,0.05,0.1,0.5,1,5,10],
                "labels": false, "title": null,
                "tickSize": {"condition": {"test": "abs(log(datum.value)/LN10 - round(log(datum.value)/LN10)) < 0.01", "value": -7}, "value": -4}}},
            "y2": {"field": "bottom"}
          }
        },
        {
          "data": {"values": [{"t": 22.88, "v": 0.13, "label": "shock"}, {"t": 22.03, "v": 2.76, "label": "WIND/EPACT"}]},
          "mark": {"type": "text", "color": "#444", "fontSize": 11.5, "baseline": "middle", "align": "center"},
          "encoding": {
            "x": {"field": "t", "type": "quantitative", "scale": {"domain": [20, 25], "nice": false, "zero": false}, "axis": null},
            "y": {"field": "v", "type": "quantitative", "scale": {"type": "log", "domain": [0.00001, 10], "nice": false}, "axis": null},
            "text": {"field": "label"}
          }
        }
      ]
    },
    {
      "width": 311,
      "height": 324,
      "resolve": {"axis": {"x": "independent", "y": "independent"}},
      "layer": [
        {
          "data": {"name": "helios"},
          "transform": [{"filter": "isValid(datum.lo)"}],
          "mark": {"type": "rule", "strokeWidth": 1.4, "opacity": 0.6},
          "encoding": {
            "x": {"field": "t", "type": "quantitative", "scale": {"domain": [22.65, 28.63], "nice": false, "zero": false},
              "axis": {"orient": "bottom", "values": [22.7,22.8,22.9,23,23.1,23.2,23.3,23.4,23.5,23.6,23.7,23.8,23.9,24,24.1,24.2,24.3,24.4,24.5,24.6,24.7,24.8,24.9,25,25.1,25.2,25.3,25.4,25.5,25.6,25.7,25.8,25.9,26,26.1,26.2,26.3,26.4,26.5,26.6,26.7,26.8,26.9,27,27.1,27.2,27.3,27.4,27.5,27.6,27.7,27.8,27.9,28,28.1,28.2,28.3,28.4,28.5,28.6],
                "labelExpr": "abs(datum.value - round(datum.value)) < 0.001 ? (round(datum.value) === 23 ? ['23', '78 Sep'] : format(datum.value, 'd')) : ''",
                "tickSize": {"condition": {"test": "abs(datum.value - round(datum.value)) < 0.001", "value": -7}, "value": -3},
                "labelFontSize": 13, "labelLineHeight": 22, "labelPadding": 18.5, "labelFlush": false, "labelOverlap": false, "labelBound": false, "title": null}},
            "y": {"field": "lo", "type": "quantitative", "scale": {"type": "log", "domain": [0.00001, 3000], "nice": false},
              "axis": {"orient": "left", "values": [0.00001,0.00002,0.00003,0.00004,0.00005,0.00006,0.00007,0.00008,0.00009,0.0001,0.0002,0.0003,0.0004,0.0005,0.0006,0.0007,0.0008,0.0009,0.001,0.002,0.003,0.004,0.005,0.006,0.007,0.008,0.009,0.01,0.02,0.03,0.04,0.05,0.06,0.07,0.08,0.09,0.1,0.2,0.3,0.4,0.5,0.6,0.7,0.8,0.9,1,2,3,4,5,6,7,8,9,10,20,30,40,50,60,70,80,90,100,200,300,400,500,600,700,800,900,1000,2000],
                "labelExpr": "abs(log(datum.value)/LN10 - round(log(datum.value)/LN10)) < 0.01 && datum.value > 0.00002 ? '10' + ['⁻⁵','⁻⁴','⁻³','⁻²','⁻¹','⁰','¹','²','³'][round(log(datum.value)/LN10) + 5] : ''",
                "tickSize": {"condition": {"test": "abs(log(datum.value)/LN10 - round(log(datum.value)/LN10)) < 0.01", "value": -7}, "value": -3},
                "labelFontSize": 12.5, "labelPadding": 17, "labelOverlap": false, "labelBound": false, "title": null}},
            "y2": {"field": "hi"},
            "color": {"field": "s", "type": "nominal",
              "scale": {"domain": ["45-56","32-45","20-30","11-21","6-11","3- 6 MeV protons"],
                "range": ["#e82020","#f8c010","#48c040","#50c078","#48c8e0","#3848b8"]},
              "legend": null}
          }
        },
        {
          "data": {"name": "helios"},
          "mark": {"type": "point", "size": 42, "strokeWidth": 1.5, "opacity": 1, "clip": true},
          "encoding": {
            "x": {"field": "t", "type": "quantitative", "scale": {"domain": [22.65, 28.63], "nice": false, "zero": false}, "axis": null},
            "y": {"field": "v", "type": "quantitative", "scale": {"type": "log", "domain": [0.00001, 3000], "nice": false}, "axis": null},
            "fill": {"field": "s", "type": "nominal",
              "scale": {"domain": ["3- 6 MeV protons","6-11","11-21","20-30","32-45","45-56"],
                "range": ["white","white","white","#48c040","#f8c010","#e82020"]},
              "legend": {"orient": "none", "legendX": 138, "legendY": 192, "title": null,
                "labelFontSize": 13, "labelFontWeight": "bold", "symbolSize": 36, "symbolStrokeWidth": 1.3, "rowPadding": 0, "labelOffset": 9,
                "labelColor": {"expr": "['#3a4ab8','#50c8e0','#50c070','#50c040','#f8c020','#e83030'][indexof(['3- 6 MeV protons','6-11','11-21','20-30','32-45','45-56'], datum.value)]"}}},
            "stroke": {"field": "s", "type": "nominal",
              "scale": {"domain": ["3- 6 MeV protons","6-11","11-21","20-30","32-45","45-56"],
                "range": ["#3848b8","#48c8e0","#50c078","#48c040","#f8c010","#e82020"]},
              "legend": {"orient": "none", "legendX": 138, "legendY": 192, "title": null,
                "labelFontSize": 13, "labelFontWeight": "bold", "symbolSize": 36, "symbolStrokeWidth": 1.3, "rowPadding": 0, "labelOffset": 9,
                "labelColor": {"expr": "['#3a4ab8','#50c8e0','#50c070','#50c040','#f8c020','#e83030'][indexof(['3- 6 MeV protons','6-11','11-21','20-30','32-45','45-56'], datum.value)]"}}},
            "shape": {"field": "s", "type": "nominal",
              "scale": {"domain": ["3- 6 MeV protons","6-11","11-21","20-30","32-45","45-56"],
                "range": ["triangle-up","circle","square","triangle-up","circle","square"]},
              "legend": {"orient": "none", "legendX": 138, "legendY": 192, "title": null,
                "labelFontSize": 13, "labelFontWeight": "bold", "symbolSize": 36, "symbolStrokeWidth": 1.3, "rowPadding": 0, "labelOffset": 9,
                "labelColor": {"expr": "['#3a4ab8','#50c8e0','#50c070','#50c040','#f8c020','#e83030'][indexof(['3- 6 MeV protons','6-11','11-21','20-30','32-45','45-56'], datum.value)]"}}}
          }
        },
        {
          "data": {"values": [{"t": 25.12, "top": 220, "bottom": 2.7}]},
          "mark": {"type": "rule", "color": "#444", "strokeWidth": 1},
          "encoding": {
            "x": {"field": "t", "type": "quantitative", "scale": {"domain": [22.65, 28.63], "nice": false, "zero": false},
              "axis": {"orient": "top", "values": [22.7,22.8,22.9,23,23.1,23.2,23.3,23.4,23.5,23.6,23.7,23.8,23.9,24,24.1,24.2,24.3,24.4,24.5,24.6,24.7,24.8,24.9,25,25.1,25.2,25.3,25.4,25.5,25.6,25.7,25.8,25.9,26,26.1,26.2,26.3,26.4,26.5,26.6,26.7,26.8,26.9,27,27.1,27.2,27.3,27.4,27.5,27.6,27.7,27.8,27.9,28,28.1,28.2,28.3,28.4,28.5,28.6],
                "labels": false, "title": null,
                "tickSize": {"condition": {"test": "abs(datum.value - round(datum.value)) < 0.001", "value": -7}, "value": -3}}},
            "y": {"field": "top", "type": "quantitative", "scale": {"type": "log", "domain": [0.00001, 3000], "nice": false},
              "axis": {"orient": "right", "values": [0.00001,0.00002,0.00003,0.00004,0.00005,0.00006,0.00007,0.00008,0.00009,0.0001,0.0002,0.0003,0.0004,0.0005,0.0006,0.0007,0.0008,0.0009,0.001,0.002,0.003,0.004,0.005,0.006,0.007,0.008,0.009,0.01,0.02,0.03,0.04,0.05,0.06,0.07,0.08,0.09,0.1,0.2,0.3,0.4,0.5,0.6,0.7,0.8,0.9,1,2,3,4,5,6,7,8,9,10,20,30,40,50,60,70,80,90,100,200,300,400,500,600,700,800,900,1000,2000],
                "labels": false, "title": null,
                "tickSize": {"condition": {"test": "abs(log(datum.value)/LN10 - round(log(datum.value)/LN10)) < 0.01", "value": -7}, "value": -3}}},
            "y2": {"field": "bottom"}
          }
        },
        {
          "data": {"values": [{"t": 25.1, "v": 290, "label": "Shock"}]},
          "mark": {"type": "text", "color": "#333", "fontSize": 14, "align": "left", "baseline": "middle"},
          "encoding": {
            "x": {"field": "t", "type": "quantitative", "scale": {"domain": [22.65, 28.63], "nice": false, "zero": false}, "axis": null},
            "y": {"field": "v", "type": "quantitative", "scale": {"type": "log", "domain": [0.00001, 3000], "nice": false}, "axis": null},
            "text": {"field": "label"}
          }
        },
        {
          "data": {"values": [{"t": 26.75, "v": 550, "label": "Helios 1"}]},
          "mark": {"type": "text", "color": "#333", "fontSize": 13, "fontWeight": "bold", "align": "center", "baseline": "middle"},
          "encoding": {
            "x": {"field": "t", "type": "quantitative", "scale": {"domain": [22.65, 28.63], "nice": false, "zero": false}, "axis": null},
            "y": {"field": "v", "type": "quantitative", "scale": {"type": "log", "domain": [0.00001, 3000], "nice": false}, "axis": null},
            "text": {"field": "label"}
          }
        }
      ]
    }
  ],
  "resolve": {
    "scale": {"color": "independent", "fill": "independent", "stroke": "independent", "shape": "independent"},
    "legend": {"color": "independent", "fill": "independent", "stroke": "independent", "shape": "independent"}
  }
}
